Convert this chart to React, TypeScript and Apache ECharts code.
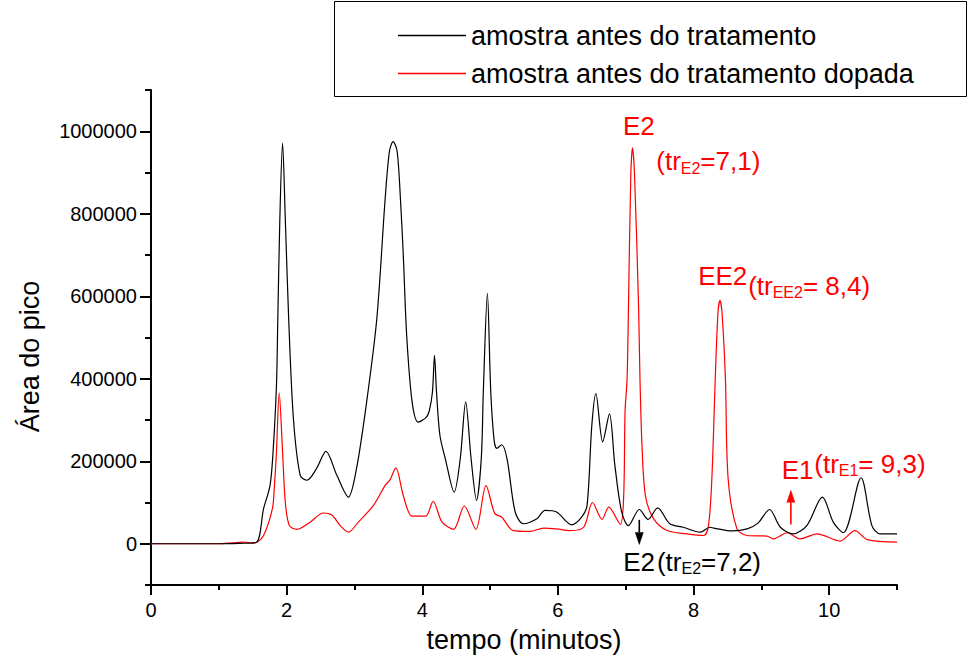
import React, { useEffect, useRef } from "react";
import * as echarts from "echarts";

const FONT = "'Liberation Sans', Arial, Helvetica, sans-serif";

const seriesNames = ["amostra antes do tratamento", "amostra antes do tratamento dopada"];
const seriesColors = ["#000000", "#ff0000"];

const blackTime = [0, 0.5, 1.0, 1.3, 1.55, 1.66, 1.755, 1.8, 1.85, 1.87, 1.9, 1.94, 1.98, 2.03, 2.1, 2.2, 2.3, 2.44, 2.58, 2.74, 2.91, 3.03, 3.18, 3.33, 3.45, 3.515, 3.57, 3.63, 3.68, 3.72, 3.77, 3.85, 3.94, 4.05, 4.1, 4.15, 4.18, 4.21, 4.26, 4.34, 4.47, 4.56, 4.64, 4.72, 4.8, 4.87, 4.9, 4.96, 5.01, 5.06, 5.1, 5.17, 5.25, 5.37, 5.49, 5.69, 5.81, 5.98, 6.2, 6.35, 6.43, 6.5, 6.56, 6.66, 6.76, 6.84, 6.94, 7.04, 7.2, 7.33, 7.47, 7.65, 7.85, 8.1, 8.24, 8.3, 8.57, 8.79, 8.95, 9.12, 9.28, 9.47, 9.67, 9.9, 10.06, 10.21, 10.47, 10.63, 10.75, 11.0];
const blackArea = [0, 0, 0, 1000, 3000, 85000, 141000, 223000, 384000, 546000, 789000, 971000, 789000, 546000, 303000, 166000, 154000, 182000, 224000, 166000, 113000, 182000, 344000, 546000, 830000, 951000, 975000, 951000, 830000, 700000, 505000, 344000, 295000, 305000, 320000, 368000, 457000, 368000, 263000, 206000, 125000, 206000, 344000, 206000, 105000, 206000, 368000, 607000, 368000, 250000, 231000, 240000, 206000, 77000, 48500, 60700, 80800, 77000, 46000, 64800, 93000, 287000, 364000, 247000, 315000, 190000, 77000, 44000, 83000, 59000, 87000, 48500, 40000, 28000, 40000, 38000, 31000, 36000, 50000, 83000, 40000, 24000, 44000, 113000, 52500, 26700, 160000, 44000, 24000, 24000];

const redTime = [0, 1.0, 1.2, 1.36, 1.5, 1.55, 1.66, 1.79, 1.82, 1.85, 1.89, 1.94, 1.98, 2.04, 2.15, 2.35, 2.54, 2.67, 2.79, 2.91, 3.06, 3.28, 3.45, 3.52, 3.61, 3.72, 3.85, 4.05, 4.16, 4.29, 4.46, 4.62, 4.79, 4.94, 5.07, 5.17, 5.34, 5.59, 5.79, 5.98, 6.18, 6.38, 6.51, 6.65, 6.75, 6.92, 6.97, 6.99, 7.02, 7.04, 7.075, 7.1, 7.13, 7.19, 7.21, 7.24, 7.29, 7.41, 7.61, 7.9, 8.15, 8.22, 8.27, 8.32, 8.36, 8.39, 8.42, 8.47, 8.51, 8.64, 8.79, 9.08, 9.18, 9.38, 9.57, 9.82, 10.16, 10.38, 10.56, 11.0];
const redArea = [0, 0, 2000, 4000, 2000, 3000, 20000, 85000, 141000, 223000, 366000, 223000, 101000, 44000, 35000, 53000, 74500, 69000, 44000, 28000, 53000, 93000, 141000, 154000, 184000, 117000, 67000, 67000, 103000, 53000, 35000, 91500, 35000, 141000, 73000, 65000, 32000, 30000, 38000, 36000, 32000, 40000, 100000, 59000, 89000, 47000, 117000, 320000, 400000, 570000, 894000, 960000, 894000, 570000, 400000, 239000, 117000, 61000, 32000, 24000, 20000, 44000, 158000, 400000, 560000, 590000, 560000, 400000, 158000, 36000, 20000, 18500, 12000, 26700, 12000, 24000, 6500, 32000, 10000, 4000];

const xMajorTicks = [0, 2, 4, 6, 8, 10];
const xMinorTicks = [1, 3, 5, 7, 9, 11];
const yMajorTicks = [0, 200000, 400000, 600000, 800000, 1000000];
const yMinorTicks = [-100000, 100000, 300000, 500000, 700000, 900000, 1100000];

// annotation texts (rich-text markup) anchored at data coordinates (left edge, vertical middle)
const annoTexts = [
  "{m|E2}",
  "{m|(tr}{s|E2}{m|=7,1)}",
  "{m|EE2}",
  "{m|(tr}{s|EE2}{m|= 8,4)}",
  "{m|E1}",
  "{m|(tr}{s|E1}{m|= 9,3)}",
  "{m|E2}",
  "{m|(tr}{s|E2}{m|=7,2)}",
];
const annoTimes = [6.96, 7.45, 8.068, 8.805, 9.3, 9.78, 6.962, 7.46];
const annoAreas = [1012000, 927000, 650000, 626000, 180000, 194000, -43700, -43700];
const annoColors = ["#ff0000", "#ff0000", "#ff0000", "#ff0000", "#ff0000", "#ff0000", "#000000", "#000000"];

// arrows: time, tail value, tip value
const arrowTimes = [7.2, 9.435];
const arrowTails = [58000, 46800];
const arrowTips = [-1700, 129400];
const arrowColors = ["#000000", "#ff0000"];

export default function App() {
  const ref = useRef<HTMLDivElement>(null);
  useEffect(() => {
    if (!ref.current) return;
    const chart = echarts.init(ref.current, undefined, { renderer: "svg" });
    const axisLineStyle = { color: "#000", width: 2 };
    const zip = (a: number[], b: number[]) => a.map((t, i) => [t, b[i]]);
    chart.setOption({
      animation: false,
      backgroundColor: "#fff",
      textStyle: { fontFamily: FONT },
      grid: { left: 151, right: 72, top: 90, bottom: 81, containLabel: false, outerBoundsMode: "none" },
      legend: {
        show: true,
        orient: "vertical",
        left: 398,
        top: 22,
        icon: "rect",
        itemWidth: 68,
        itemHeight: 1.5,
        itemGap: 11,
        padding: 0,
        textStyle: { fontSize: 27, lineHeight: 26, color: "#000", fontFamily: FONT },
        data: seriesNames,
      },
      xAxis: [
        {
          type: "value",
          min: 0,
          max: 11,
          interval: 1,
          position: "bottom",
          axisLine: { show: true, onZero: false, lineStyle: axisLineStyle },
          axisTick: { show: true, inside: false, length: 10, lineStyle: axisLineStyle, customValues: xMajorTicks },
          axisLabel: { show: true, customValues: xMajorTicks, margin: 15, fontSize: 20, color: "#000", fontFamily: FONT, formatter: (v: number) => String(v) },
          splitLine: { show: false },
          name: "tempo (minutos)",
          nameLocation: "middle",
          nameGap: 41,
          nameTextStyle: { fontSize: 27, color: "#000", fontFamily: FONT },
        },
        {
          type: "value",
          min: 0,
          max: 11,
          interval: 1,
          position: "bottom",
          axisLine: { show: false, onZero: false },
          axisTick: { show: true, inside: false, length: 5, lineStyle: axisLineStyle, customValues: xMinorTicks },
          axisLabel: { show: false },
          splitLine: { show: false },
        },
      ],
      yAxis: [
        {
          type: "value",
          min: -100000,
          max: 1100000,
          interval: 100000,
          position: "left",
          axisLine: { show: true, onZero: false, lineStyle: axisLineStyle },
          axisTick: { show: true, inside: false, length: 11, lineStyle: axisLineStyle, customValues: yMajorTicks },
          axisLabel: { show: true, customValues: yMajorTicks, margin: 14, fontSize: 20, color: "#000", fontFamily: FONT, formatter: (v: number) => String(v) },
          splitLine: { show: false },
          name: "Área do pico",
          nameLocation: "middle",
          nameGap: 108,
          nameTextStyle: { fontSize: 27, color: "#000", fontFamily: FONT, padding: [0, 38, 0, 0] },
        },
        {
          type: "value",
          min: -100000,
          max: 1100000,
          interval: 100000,
          position: "left",
          axisLine: { show: false, onZero: false },
          axisTick: { show: true, inside: false, length: 6, lineStyle: axisLineStyle, customValues: yMinorTicks },
          axisLabel: { show: false },
          splitLine: { show: false },
        },
      ],
      series: [
        {
          name: seriesNames[0],
          type: "line",
          xAxisIndex: 0,
          yAxisIndex: 0,
          data: zip(blackTime, blackArea),
          showSymbol: false,
          symbol: "none",
          smooth: 0.3,
          color: seriesColors[0],
          lineStyle: { color: seriesColors[0], width: 1.2 },
          emphasis: { disabled: true },
          z: 3,
        },
        {
          name: seriesNames[1],
          type: "line",
          xAxisIndex: 0,
          yAxisIndex: 0,
          data: zip(redTime, redArea),
          showSymbol: false,
          symbol: "none",
          smooth: 0.3,
          color: seriesColors[1],
          lineStyle: { color: seriesColors[1], width: 1.2 },
          emphasis: { disabled: true },
          z: 2,
        },
      ],
    });

    const toPx = (t: number, v: number) =>
      chart.convertToPixel({ xAxisIndex: 0, yAxisIndex: 0 }, [t, v]) as number[];

    const graphics: any[] = [
      {
        type: "rect",
        shape: { x: 334.5, y: 1.5, width: 632, height: 95 },
        style: { fill: "none", stroke: "#000", lineWidth: 1 },
        silent: true,
        z: 10,
      },
    ];
    annoTexts.forEach((txt, i) => {
      const p = toPx(annoTimes[i], annoAreas[i]);
      const c = annoColors[i];
      graphics.push({
        type: "text",
        x: p[0],
        y: p[1],
        silent: true,
        z: 20,
        style: {
          text: txt,
          fill: c,
          fontSize: 26,
          fontFamily: FONT,
          align: "left",
          verticalAlign: "middle",
          rich: {
            m: { fontSize: 26, lineHeight: 30, fill: c, fontFamily: FONT },
            s: { fontSize: 16, lineHeight: 9, fill: c, fontFamily: FONT, verticalAlign: "bottom" },
          },
        },
      });
    });
    arrowTimes.forEach((t, i) => {
      const a = toPx(t, arrowTails[i]);
      const b = toPx(t, arrowTips[i]);
      const dir = b[1] > a[1] ? 1 : -1;
      const headLen = 12;
      const halfW = 4;
      const baseY = b[1] - dir * headLen;
      const c = arrowColors[i];
      graphics.push({
        type: "line",
        shape: { x1: a[0], y1: a[1], x2: b[0], y2: baseY },
        style: { stroke: c, lineWidth: 1.6 },
        silent: true,
        z: 20,
      });
      graphics.push({
        type: "polygon",
        shape: { points: [[b[0], b[1]], [b[0] - halfW, baseY], [b[0] + halfW, baseY]] },
        style: { fill: c, stroke: c, lineWidth: 0.5 },
        silent: true,
        z: 20,
      });
    });
    chart.setOption({ graphic: graphics });

    return () => chart.dispose();
  }, []);
  return <div ref={ref} style={{ width: 969, height: 666, position: "absolute", left: 0, top: 0 }} />;
}
